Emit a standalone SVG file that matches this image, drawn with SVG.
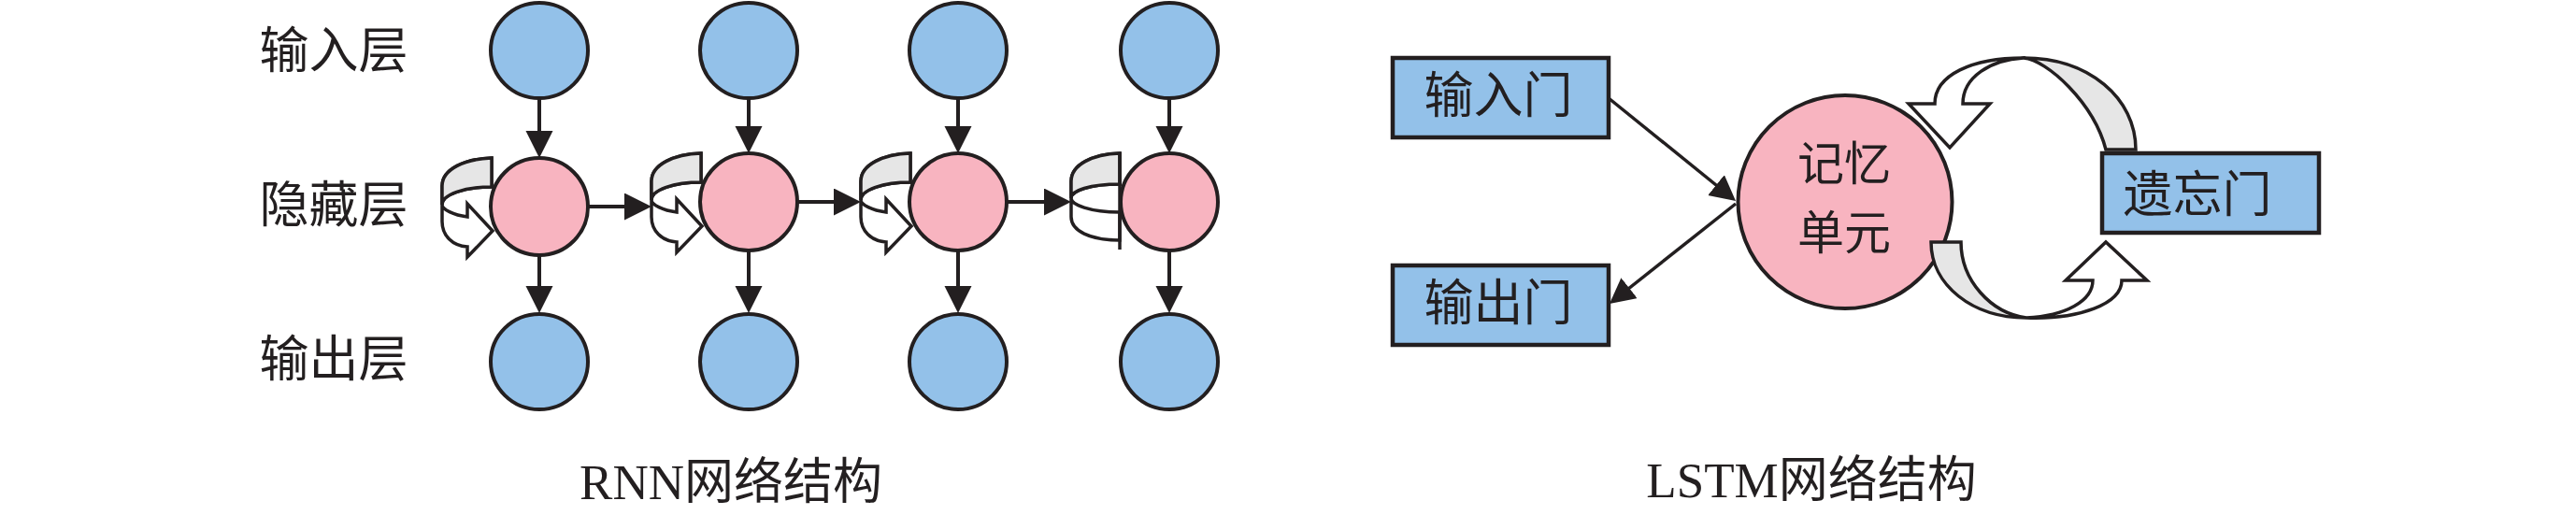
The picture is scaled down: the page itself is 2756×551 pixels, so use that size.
<svg xmlns="http://www.w3.org/2000/svg" width="2756" height="551" viewBox="0 0 2756 551">
<style>
  .blue { fill: #93c1e9; stroke: #231f20; stroke-width: 4; }
  .pink { fill: #f8b4c0; stroke: #231f20; stroke-width: 4; }
  .box { fill: #93c1e9; stroke: #231f20; stroke-width: 4.5; }
  .loopw { fill: #ffffff; stroke: #231f20; stroke-width: 3.5; stroke-linejoin: miter; }
  .loopg { fill: #e6e6e6; stroke: #231f20; stroke-width: 3.5; stroke-linejoin: miter; }
  .edge { fill: none; stroke: #231f20; stroke-width: 4; }
  .edge2 { fill: none; stroke: #231f20; stroke-width: 3.5; }
  .lbl { font-family: "Noto Sans CJK SC", sans-serif; font-size: 53px; fill: #231f20; text-anchor: middle; }
  .mem { font-family: "Noto Sans CJK SC", sans-serif; font-size: 50px; fill: #231f20; text-anchor: middle; }
  .cap { font-family: "Liberation Serif", "Noto Sans CJK SC", serif; font-size: 53px; fill: #231f20; text-anchor: middle; }
</style>
<defs>
  <marker id="ah" markerUnits="userSpaceOnUse" markerWidth="30" markerHeight="30" refX="25" refY="14.5" orient="auto">
    <path d="M0,0 L29,14.5 L0,29 Z" fill="#231f20"/>
  </marker>
  <marker id="ah2" markerUnits="userSpaceOnUse" markerWidth="30" markerHeight="30" refX="23" refY="14" orient="auto">
    <path d="M0,0 L27,14 L0,28 Z" fill="#231f20"/>
  </marker>
  <g id="loopArrow">
    <path class="loopw" d="M-51,-52 C-80,-51 -104,-40 -104,-22 L-104,16 C-104,31 -93,42 -77,43 L-77,54 L-50,26 L-77,-3 L-77,11 C-92,9 -104,3 -104,-2 C-104,-13 -80,-21 -51,-21 Z"/>
    <path class="loopg" d="M-51,-52 C-80,-51 -104,-40 -104,-22 L-104,-2 C-104,-13 -80,-21 -51,-21 Z"/>
  </g>
  <g id="loopFlat">
    <path class="loopw" d="M-53,-52 C-82,-51 -105,-40 -105,-22 L-105,16 C-105,31 -85,41 -53,41 L-53,11 C-85,11 -105,3 -105,-4 C-105,-12 -85,-19 -53,-19 Z"/>
    <path class="loopg" d="M-53,-52 C-82,-51 -105,-40 -105,-22 L-105,-4 C-105,-12 -85,-19 -53,-19 Z"/>
    <path class="edge2" d="M-53,-53 L-53,51"/>
  </g>
</defs>

<rect width="2756" height="551" fill="#ffffff"/>

<g id="rnn-labels">
  <text class="lbl" x="357" y="73">输入层</text>
  <text class="lbl" x="357" y="238">隐藏层</text>
  <text class="lbl" x="357" y="403">输出层</text>
  <text class="cap" x="782" y="534">RNN网络结构</text>
</g>

<g id="connectors">
  <line class="edge" x1="577" y1="105" x2="577" y2="165" marker-end="url(#ah)"/>
  <line class="edge" x1="577" y1="273" x2="577" y2="331" marker-end="url(#ah)"/>
  <line class="edge" x1="801" y1="105" x2="801" y2="160" marker-end="url(#ah)"/>
  <line class="edge" x1="801" y1="268" x2="801" y2="331" marker-end="url(#ah)"/>
  <line class="edge" x1="1025" y1="105" x2="1025" y2="160" marker-end="url(#ah)"/>
  <line class="edge" x1="1025" y1="268" x2="1025" y2="331" marker-end="url(#ah)"/>
  <line class="edge" x1="1251" y1="105" x2="1251" y2="160" marker-end="url(#ah)"/>
  <line class="edge" x1="1251" y1="268" x2="1251" y2="331" marker-end="url(#ah)"/>
  <line class="edge" x1="629" y1="221" x2="693" y2="221" marker-end="url(#ah)"/>
  <line class="edge" x1="853" y1="216" x2="917" y2="216" marker-end="url(#ah)"/>
  <line class="edge" x1="1077" y1="216" x2="1142" y2="216" marker-end="url(#ah)"/>
  <line class="edge2" x1="1721" y1="105" x2="1853.9" y2="212.5" marker-end="url(#ah2)"/>
  <line class="edge2" x1="1857" y1="218" x2="1725.1" y2="322.5" marker-end="url(#ah2)"/>
</g>

<g id="rnn-col1">
  <ellipse class="blue" cx="577" cy="54" rx="52" ry="51"/>
  <use href="#loopArrow" transform="translate(577,221)"/>
  <circle class="pink" cx="577" cy="221" r="52"/>
  <ellipse class="blue" cx="577" cy="387" rx="52" ry="51"/>
</g>
<g id="rnn-col2">
  <ellipse class="blue" cx="801" cy="54" rx="52" ry="51"/>
  <use href="#loopArrow" transform="translate(801,216)"/>
  <circle class="pink" cx="801" cy="216" r="52"/>
  <ellipse class="blue" cx="801" cy="387" rx="52" ry="51"/>
</g>
<g id="rnn-col3">
  <ellipse class="blue" cx="1025" cy="54" rx="52" ry="51"/>
  <use href="#loopArrow" transform="translate(1025,216)"/>
  <circle class="pink" cx="1025" cy="216" r="52"/>
  <ellipse class="blue" cx="1025" cy="387" rx="52" ry="51"/>
</g>
<g id="rnn-col4">
  <ellipse class="blue" cx="1251" cy="54" rx="52" ry="51"/>
  <use href="#loopFlat" transform="translate(1251,216)"/>
  <circle class="pink" cx="1251" cy="216" r="52"/>
  <ellipse class="blue" cx="1251" cy="387" rx="52" ry="51"/>
</g>

<g id="input-gate">
  <rect class="box" x="1490" y="62" width="231" height="85"/>
  <text class="lbl" x="1603" y="121">输入门</text>
</g>
<g id="output-gate">
  <rect class="box" x="1490" y="284" width="231" height="85"/>
  <text class="lbl" x="1603" y="343">输出门</text>
</g>
<g id="memory-cell">
  <ellipse class="pink" cx="1974" cy="216" rx="114.5" ry="114"/>
  <text class="mem" x="1973" y="193">记忆</text>
  <text class="mem" x="1973" y="267">单元</text>
</g>
<g id="forget-gate">
  <rect class="box" x="2249" y="164" width="232" height="85"/>
  <text class="lbl" x="2351" y="227">遗忘门</text>
</g>

<g id="forget-loops">
  <path class="loopg" d="M2285,160 C2285,105 2235,62 2165,62 C2190,64 2240,110 2253,160 Z"/>
  <path class="loopw" d="M2165,62 C2110,62 2070,80 2070,111 L2042,111 L2086,158 L2129,111 L2100,111 C2100,82 2130,64 2165,62 Z"/>
  <path class="loopg" d="M2066,259 C2066,305 2110,340 2168,340 C2130,335 2098,300 2098,259 Z"/>
  <path class="loopw" d="M2168,340 C2210,338 2239,322 2239,300 L2210,300 L2253,259 L2297,300 L2270,300 C2270,325 2225,342 2168,340 Z"/>
</g>

<g id="lstm-caption">
  <text class="cap" x="1938" y="532">LSTM网络结构</text>
</g>
</svg>
